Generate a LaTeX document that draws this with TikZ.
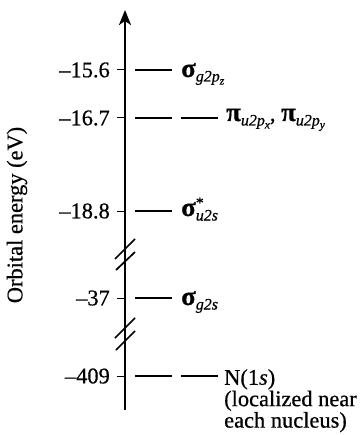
\documentclass[tikz,border=0pt]{standalone}
\usepackage{fontspec}
\setmainfont{Liberation Serif}[FakeBold=0.6]
\usetikzlibrary{arrows.meta}
\newcommand{\gk}[1]{{\fontsize{27}{27}\selectfont\bfseries #1}}
\newcommand{\sbs}[1]{\raisebox{-4.5bp}{\fontsize{16}{16}\selectfont\itshape #1}}
\newcommand{\ssbs}[1]{\raisebox{-3bp}{\fontsize{11.5}{11.5}\selectfont\itshape #1}}
\newcommand{\sps}[1]{\rlap{\raisebox{8bp}{\fontsize{16}{16}\selectfont #1}}}
\begin{document}
\begin{tikzpicture}[x=1bp, y=-1bp, font=\fontsize{22.5}{21.5}\selectfont, line join=round, >={Stealth[length=15bp,width=12bp,inset=4bp]}]
	\useasboundingbox (0,0) rectangle (359,435);
	% Vẽ trục năng lượng
	\coordinate (bot) at (125,410);
	\coordinate (top) at (125,10);
	\draw[line width=2.4bp, ->] (bot) -- (top);
	\node[rotate=90] (ylab) at (17,215) {Orbital energy (eV)};
	
	% Các mức năng lượng
	\foreach \y/\v/\n in {70/{–15.6}/a, 118/{–16.7}/b, 211/{–18.8}/c, 298/{–37}/d, 376/{–409}/e}{
		\draw[line width=1bp] (117,\y) -- (125,\y);
		\node[anchor=east, inner sep=0] (v\n) at (110,\y) {\v};
		\draw[line width=1.7bp] (135,\y) -- (172,\y);
	}
	\draw[line width=1.7bp] (181,118) -- (218,118);
	\draw[line width=1.7bp] (181,376) -- (218,376);
	
	% Ngắt trục
	\draw[line width=1.7bp] (115,259) -- (135,239) (116,270) -- (135,252);
	\draw[line width=1.7bp] (115,338) -- (135,318) (116,350) -- (135,331);
	
	% Tên orbital
	\node[anchor=base west, inner sep=0] (sgz) at (181,77) {\gk{σ}\sbs{g2p\ssbs{z}}};
	\node[anchor=base west, inner sep=0] (piu) at (226,121) {\gk{π}\sbs{u2p\ssbs{x}}, \gk{π}\sbs{u2p\ssbs{y}}};
	\node[anchor=base west, inner sep=0] (su) at (181,216) {\gk{σ}\sps{*}\sbs{u2s}};
	\node[anchor=base west, inner sep=0] (sg) at (181,305) {\gk{σ}\sbs{g2s}};
	\node[anchor=north west, align=left, inner sep=0] (n1s) at (224,369) {N(1\textit{s})\\(localized near\\each nucleus)};
\end{tikzpicture}
\end{document}
